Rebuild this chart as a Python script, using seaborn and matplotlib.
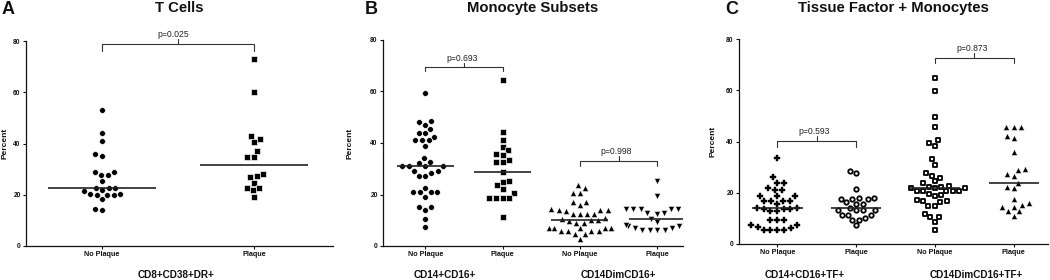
import numpy as np
import pandas as pd
import matplotlib
matplotlib.use("Agg")
import matplotlib.pyplot as plt
import matplotlib.transforms as mtransforms
import seaborn as sns

# ---------------- data (percent) ----------------
conditions = ["No Plaque", "Plaque"]

# Panel A - T cells
a_title = "T Cells"
a_groups = ["CD8+CD38+DR+"]
a_no_plaque = [53.1, 44.0, 41.1, 35.8, 35.2, 29.0, 28.7, 27.8, 27.8, 25.3, 22.8, 22.7,
               22.6, 21.9, 21.4, 20.1, 20.0, 19.9, 20.0, 20.1, 18.2, 14.3, 14.0]
a_plaque = [73.0, 60.1, 42.9, 41.6, 40.7, 37.2, 34.9, 34.9, 28.2, 27.3, 26.8, 24.7,
            22.8, 22.8, 21.7, 19.2]
a_pvalues = ["p=0.025"]

# Panel B - Monocyte subsets
b_title = "Monocyte Subsets"
b_groups = ["CD14+CD16+", "CD14DimCD16+"]
b_cd14_no_plaque = [59.5, 48.6, 48.1, 47.1, 45.5, 43.8, 43.8, 42.5, 41.1, 41.1, 41.1, 38.9,
                    34.1, 32.8, 32.2, 30.9, 30.9, 30.9, 30.9, 29.2, 29.2, 28.5, 27.3, 27.3,
                    22.4, 20.8, 20.8, 20.8, 20.8, 19.2, 15.3, 15.3, 14.0, 10.4, 7.2]
b_cd14_plaque = [64.6, 44.1, 41.2, 38.6, 37.1, 35.8, 35.5, 33.3, 32.5, 32.5, 28.9, 25.4,
                 24.9, 23.5, 22.0, 20.6, 18.8, 18.8, 18.5, 18.8, 11.3]
b_dim_no_plaque = [23.5, 22.6, 20.7, 20.7, 17.2, 17.2, 15.9, 14.3, 14.0, 14.0, 14.0, 13.7,
                   12.4, 12.4, 12.4, 12.4, 10.8, 10.3, 10.1, 10.0, 9.9, 9.1, 9.1, 7.1,
                   7.1, 7.1, 7.1, 6.8, 6.8, 6.0, 6.0, 6.0, 6.0, 4.5, 4.5, 2.6]
b_dim_plaque = [25.4, 19.4, 14.5, 14.3, 14.5, 14.3, 14.5, 14.3, 13.0, 13.0, 12.6, 10.6,
                9.4, 8.0, 7.6, 7.0, 6.4, 6.2, 6.2, 6.4, 7.0, 7.6, 8.0]
b_pvalues = ["p=0.693", "p=0.998"]

# Panel C - Tissue factor + monocytes
c_title = "Tissue Factor + Monocytes"
c_groups = ["CD14+CD16+TF+", "CD14DimCD16+TF+"]
c_cd14_no_plaque = [33.5, 26.0, 24.0, 24.0, 21.8, 21.2, 21.2, 18.8, 18.8, 18.8, 16.9, 16.9,
                    16.9, 16.9, 15.7, 14.0, 13.7, 13.7, 13.9, 13.7, 12.7, 12.7, 9.4, 9.4,
                    9.4, 7.3, 6.2, 5.5, 5.5, 5.5, 5.5, 6.8, 7.3]
c_cd14_plaque = [28.6, 27.7, 21.6, 17.8, 17.6, 17.4, 17.4, 17.8, 16.2, 15.8, 15.6, 14.2,
                 13.1, 13.1, 13.1, 13.1, 11.2, 11.2, 11.2, 10.0, 9.5, 9.2, 7.3]
c_dim_no_plaque = [64.7, 59.8, 49.6, 45.6, 40.4, 39.6, 38.3, 33.1, 31.0, 27.9, 26.7, 25.9,
                   24.5, 23.8, 22.8, 22.4, 22.0, 22.3, 21.9, 21.8, 20.8, 20.8, 20.8, 20.8,
                   20.6, 19.4, 19.0, 18.6, 17.0, 16.6, 16.3, 16.8, 15.0, 14.9, 11.8, 10.5,
                   10.5, 8.7, 5.4]
c_dim_plaque = [45.8, 45.8, 45.8, 42.1, 41.5, 35.8, 29.2, 28.9, 27.5, 26.6, 23.9, 22.4,
                21.7, 17.5, 16.0, 15.3, 14.4, 14.4, 12.7, 12.7, 11.0]
c_pvalues = ["p=0.593", "p=0.873"]

y_ticks = [0, 20, 40, 60, 80]

# ---------------- style ----------------
sns.set_theme(style="ticks")
plt.rcParams["font.family"] = ["Liberation Sans", "DejaVu Sans"]

W, H = 1050, 280
fig = plt.figure(figsize=(W / 100, H / 100), dpi=100)


def add_ax(l, r, t, b):
    return fig.add_axes([l / W, 1 - b / H, (r - l) / W, (b - t) / H])


def build(groups, series):
    rows = []
    order = []
    for gi, g in enumerate(groups):
        for ci, c in enumerate(conditions):
            key = f"{g}|{c}"
            order.append(key)
            for v in series[gi * 2 + ci]:
                rows.append({"key": key, "value": v})
    return pd.DataFrame(rows), order


panels = [
    dict(ax=add_ax(26, 333, 41, 246), letter="A", title=a_title, groups=a_groups,
         series=[a_no_plaque, a_plaque], pvals=a_pvalues,
         styles=[("o", False), ("s", False)], xlim=(-0.5, 1.52), width=0.71,
         brackets=[(0, 1, 78.9, 76.2, 80.6)], glabel_x=[0.486], ylab_x=-0.058),
    dict(ax=add_ax(383, 683, 40, 246), letter="B", title=b_title, groups=b_groups,
         series=[b_cd14_no_plaque, b_cd14_plaque, b_dim_no_plaque, b_dim_plaque],
         pvals=b_pvalues,
         styles=[("o", False), ("s", False), ("^", False), ("v", False)],
         xlim=(-0.547, 3.334), width=0.74,
         brackets=[(0, 1, 69.5, 68.0, 71.0), (2, 3, 33.2, 31.1, 35.0)],
         glabel_x=[0.25, 2.5], ylab_x=-0.099),
    dict(ax=add_ax(739, 1048, 39, 244), letter="C", title=c_title, groups=c_groups,
         series=[c_cd14_no_plaque, c_cd14_plaque, c_dim_no_plaque, c_dim_plaque],
         pvals=c_pvalues,
         styles=[("P", False), ("o", True), ("s", True), ("^", False)],
         xlim=(-0.486, 3.435), width=0.64,
         brackets=[(0, 1, 40.1, 37.9, 42.1), (2, 3, 72.5, 70.5, 74.4)],
         glabel_x=[0.345, 2.53], ylab_x=-0.072),
]

for p in panels:
    ax = p["ax"]
    df, order = build(p["groups"], p["series"])

    # points
    for key, (mk, hollow) in zip(order, p["styles"]):
        sub = df[df["key"] == key]
        if hollow:
            sns.swarmplot(data=sub, x="key", y="value", order=order, ax=ax, marker=mk,
                          color="white", edgecolor="black", linewidth=1.3, size=3.2,
                          zorder=2)
        elif mk == "P":
            sns.swarmplot(data=sub, x="key", y="value", order=order, ax=ax, marker=mk,
                          color="black", edgecolor="black", linewidth=0.3, size=4.4,
                          zorder=2)
        else:
            msize = 4.6 if mk in ("^", "v") else 4.2
            sns.swarmplot(data=sub, x="key", y="value", order=order, ax=ax, marker=mk,
                          color="black", edgecolor="white", linewidth=0.45, size=msize,
                          zorder=2)

    # median lines
    sns.boxplot(data=df, x="key", y="value", order=order, ax=ax, width=p["width"],
                showfliers=False, showcaps=False,
                boxprops={"visible": False}, whiskerprops={"visible": False},
                capprops={"visible": False},
                medianprops={"color": "#222222", "linewidth": 1.2, "visible": True},
                zorder=3)

    # significance brackets
    for (x1, x2, yh, yend, ytop), ptxt in zip(p["brackets"], p["pvals"]):
        xm = (x1 + x2) / 2
        ax.plot([x1, x1, x2, x2], [yend, yh, yh, yend], color="#333333", lw=0.8,
                clip_on=False, zorder=4)
        ax.plot([xm, xm], [yh, ytop], color="#333333", lw=0.8, clip_on=False, zorder=4)
        ax.text(xm - 0.03, ytop + 0.9, ptxt, ha="center", va="baseline", fontsize=6.2,
                color="#222222", clip_on=False)

    ax.set_xlim(*p["xlim"])
    ax.set_ylim(0, 80)
    ax.set_yticks(y_ticks)
    ax.set_yticklabels([str(t) for t in y_ticks], fontsize=4.8, fontweight="bold")
    ax.set_xticks(range(len(order)))
    ax.set_xticklabels(conditions * len(p["groups"]), fontsize=5.2, fontweight="bold")
    ax.tick_params(axis="both", direction="out", length=2.3, width=0.8, pad=1.5,
                   colors="#111111")
    ax.set_xlabel("")
    ax.set_ylabel("Percent", fontsize=6, fontweight="bold", color="#111111")
    ax.yaxis.set_label_coords(p["ylab_x"], 0.5)
    for s in ["top", "right"]:
        ax.spines[s].set_visible(False)
    for s in ["left", "bottom"]:
        ax.spines[s].set_linewidth(0.9)
        ax.spines[s].set_color("#111111")

    # group labels below the axis
    trans = mtransforms.blended_transform_factory(ax.transData, fig.transFigure)
    for gx, g in zip(p["glabel_x"], p["groups"]):
        ax.text(gx, 1 - 278.5 / H, g, transform=trans, ha="center", va="baseline",
                fontsize=7.2, fontweight="bold", color="#111111")

    # title
    bb = ax.get_position()
    fig.text(bb.x0 + bb.width / 2, 1 - 12.0 / H, p["title"], ha="center",
             va="baseline", fontsize=10.7, fontweight="bold", color="#111111")

letters = [("A", 2), ("B", 365), ("C", 725)]
for letter, xpx in letters:
    fig.text(xpx / W, 1 - 14.0 / H, letter, ha="left", va="baseline", fontsize=13,
             fontweight="bold", color="#111111")

fig.savefig("out.png", dpi=100)
